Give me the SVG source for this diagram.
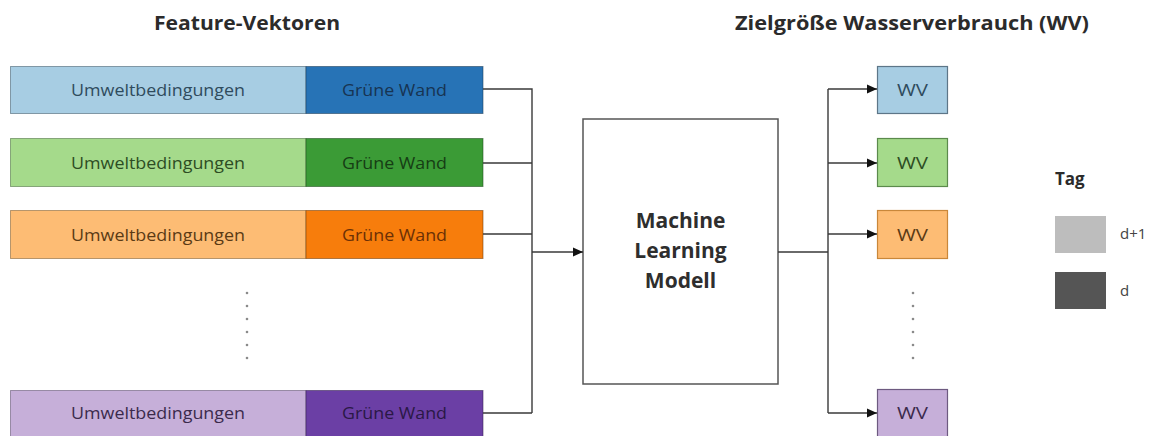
<svg xmlns="http://www.w3.org/2000/svg" width="1158" height="436" viewBox="0 0 1158 436">
<defs>
<marker id="arr" viewBox="0 0 10 10" refX="10" refY="5" markerWidth="10" markerHeight="10" markerUnits="userSpaceOnUse" orient="auto">
<path d="M0,0.5 L10,5 L0,9.5 z" fill="#111"/>
</marker>
<style>
.title{font-family:"Open Sans","Liberation Sans",sans-serif;font-weight:700;font-size:19px;fill:#2b2b2b}
.lbl{font-family:"Open Sans","Liberation Sans",sans-serif;font-size:16px;text-anchor:middle;dominant-baseline:central}
.wv{font-family:"Open Sans","Liberation Sans",sans-serif;font-size:16px;text-anchor:middle;dominant-baseline:central}
.ml{font-family:"Open Sans","Liberation Sans",sans-serif;font-weight:700;font-size:21px;fill:#2e2e2e;text-anchor:middle}
.leg{font-family:"Open Sans","Liberation Sans",sans-serif;font-size:15px;fill:#444}
.bar{stroke-width:1;stroke-opacity:0.55}
.con{fill:none;stroke:#3a3a3a;stroke-width:1.4}
.dot{fill:#8a8a8a}
</style>
</defs>
<rect width="1158" height="436" fill="#ffffff"/>

<text class="title" x="247" y="30" text-anchor="middle" textLength="186" lengthAdjust="spacingAndGlyphs">Feature-Vektoren</text>
<text class="title" x="912" y="30" text-anchor="middle" textLength="354" lengthAdjust="spacingAndGlyphs">Zielgröße Wasserverbrauch (WV)</text>

<g id="fv1">
<rect class="bar" x="10.5" y="66.5" width="295.5" height="47" fill="#a7cde3" stroke="#3d5566"/>
<rect class="bar" x="306" y="66.5" width="177" height="47" fill="#2773b6" stroke="#1c3a55"/>
<text class="lbl" x="158" y="90" fill="#2f4b5d" textLength="174" lengthAdjust="spacingAndGlyphs">Umweltbedingungen</text>
<text class="lbl" x="394.5" y="90" fill="#173452" textLength="105" lengthAdjust="spacingAndGlyphs">Grüne Wand</text>
</g>
<g id="fv2">
<rect class="bar" x="10.5" y="138.5" width="295.5" height="48" fill="#a5da8b" stroke="#456b3a"/>
<rect class="bar" x="306" y="138.5" width="177" height="48" fill="#3b9b36" stroke="#1e4a1c"/>
<text class="lbl" x="158" y="162.5" fill="#2d4d23" textLength="174" lengthAdjust="spacingAndGlyphs">Umweltbedingungen</text>
<text class="lbl" x="394.5" y="162.5" fill="#163d14" textLength="105" lengthAdjust="spacingAndGlyphs">Grüne Wand</text>
</g>
<g id="fv3">
<rect class="bar" x="10.5" y="210.5" width="295.5" height="48" fill="#fdbc74" stroke="#7a5a2e"/>
<rect class="bar" x="306" y="210.5" width="177" height="48" fill="#f77d0c" stroke="#6e3a08"/>
<text class="lbl" x="158" y="234.5" fill="#5a3a14" textLength="174" lengthAdjust="spacingAndGlyphs">Umweltbedingungen</text>
<text class="lbl" x="394.5" y="234.5" fill="#6b3006" textLength="105" lengthAdjust="spacingAndGlyphs">Grüne Wand</text>
</g>
<g id="fv4">
<rect class="bar" x="10.5" y="390.5" width="295.5" height="48" fill="#c6afd9" stroke="#5a4a6a"/>
<rect class="bar" x="306" y="390.5" width="177" height="48" fill="#6b3fa5" stroke="#34204f"/>
<text class="lbl" x="158" y="413" fill="#3b2a4c" textLength="174" lengthAdjust="spacingAndGlyphs">Umweltbedingungen</text>
<text class="lbl" x="394.5" y="413" fill="#2a1845" textLength="105" lengthAdjust="spacingAndGlyphs">Grüne Wand</text>
</g>
<g id="fv-dots">
<circle class="dot" cx="247" cy="293" r="1.3"/>
<circle class="dot" cx="247" cy="306" r="1.3"/>
<circle class="dot" cx="247" cy="319" r="1.3"/>
<circle class="dot" cx="247" cy="332" r="1.3"/>
<circle class="dot" cx="247" cy="345" r="1.3"/>
<circle class="dot" cx="247" cy="358" r="1.3"/>
</g>

<g id="ml">
<rect x="583" y="119" width="195" height="265" fill="#ffffff" stroke="#555" stroke-width="1.5"/>
<text class="ml" x="680.5" y="228">Machine</text>
<text class="ml" x="680.5" y="258">Learning</text>
<text class="ml" x="680.5" y="288">Modell</text>
</g>

<g id="wv1">
<rect x="877.5" y="66.5" width="70" height="47" fill="#a7cde3" stroke="#5d7688" stroke-width="1.2"/>
<text class="wv" x="912.5" y="90" fill="#2f4b5d" textLength="31" lengthAdjust="spacingAndGlyphs">WV</text>
</g>
<g id="wv2">
<rect x="877.5" y="138.5" width="70" height="48" fill="#a5da8b" stroke="#5b8a4c" stroke-width="1.2"/>
<text class="wv" x="912.5" y="162.5" fill="#2d4d23" textLength="31" lengthAdjust="spacingAndGlyphs">WV</text>
</g>
<g id="wv3">
<rect x="877.5" y="210.5" width="70" height="48" fill="#fdbc74" stroke="#c9873a" stroke-width="1.2"/>
<text class="wv" x="912.5" y="234.5" fill="#5a3a14" textLength="31" lengthAdjust="spacingAndGlyphs">WV</text>
</g>
<g id="wv4">
<rect x="877.5" y="389.5" width="70" height="49" fill="#c6afd9" stroke="#6d5a80" stroke-width="1.2"/>
<text class="wv" x="912.5" y="413" fill="#3b2a4c" textLength="31" lengthAdjust="spacingAndGlyphs">WV</text>
</g>
<g id="wv-dots">
<circle class="dot" cx="913" cy="293" r="1.3"/>
<circle class="dot" cx="913" cy="306" r="1.3"/>
<circle class="dot" cx="913" cy="319" r="1.3"/>
<circle class="dot" cx="913" cy="332" r="1.3"/>
<circle class="dot" cx="913" cy="345" r="1.3"/>
<circle class="dot" cx="913" cy="358" r="1.3"/>
</g>

<g id="legend">
<text x="1055" y="185" font-family="'Open Sans','Liberation Sans',sans-serif" font-weight="700" font-size="17" fill="#2b2b2b">Tag</text>
<rect x="1055" y="216" width="51" height="37" fill="#bdbdbd"/>
<text class="leg" x="1120" y="239">d+1</text>
<rect x="1055" y="272" width="51" height="37" fill="#555555"/>
<text class="leg" x="1120" y="296">d</text>
</g>

<g id="connectors">
<path class="con" d="M483,89 H532 V413 M483,163 H532 M483,234 H532 M483,413 H532"/>
<path class="con" d="M532,252 H583" marker-end="url(#arr)"/>
<path class="con" d="M778,252 H828 M828,89 V413"/>
<path class="con" d="M828,89 H877" marker-end="url(#arr)"/>
<path class="con" d="M828,163 H877" marker-end="url(#arr)"/>
<path class="con" d="M828,234 H877" marker-end="url(#arr)"/>
<path class="con" d="M828,413 H877" marker-end="url(#arr)"/>
</g>
</svg>
